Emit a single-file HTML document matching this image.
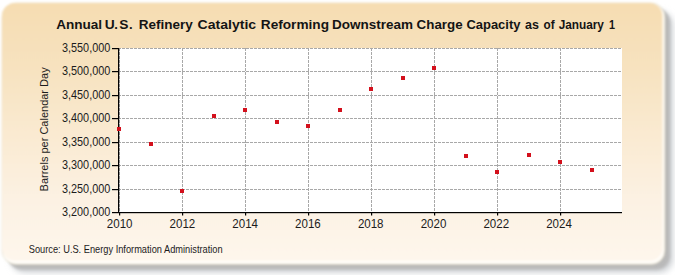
<!DOCTYPE html>
<html><head><meta charset="utf-8"><style>
html,body{margin:0;padding:0;background:#fff;width:675px;height:275px;overflow:hidden}
svg{display:block;font-family:"Liberation Sans", sans-serif}
</style></head><body>
<svg width="675" height="275" viewBox="0 0 675 275">
<defs>
<linearGradient id="bg" x1="0" y1="0" x2="0" y2="1">
<stop offset="0" stop-color="#f6ddb2"/>
<stop offset="0.25" stop-color="#f7e2bf"/>
<stop offset="0.75" stop-color="#fcf1e2"/>
<stop offset="1" stop-color="#fef6ec"/>
</linearGradient>
<filter id="sh" x="-5%" y="-5%" width="115%" height="120%">
<feGaussianBlur stdDeviation="3"/>
</filter>
<filter id="sh2" x="-5%" y="-5%" width="115%" height="120%">
<feGaussianBlur stdDeviation="1.5"/>
</filter>
<filter id="soft" x="-2%" y="-2%" width="104%" height="104%">
<feGaussianBlur stdDeviation="0.8"/>
</filter>
</defs>
<g filter="url(#sh)"><rect x="11" y="11.5" width="662" height="261" rx="14" fill="#cdd0d4"/></g>
<g filter="url(#sh2)"><rect x="8" y="8.5" width="662" height="261" rx="14" fill="#b9b9b9"/></g>
<g filter="url(#soft)">
<rect x="2" y="3" width="663" height="261.5" rx="14" fill="#fffdf8" stroke="#c8bc94" stroke-opacity="0.4" stroke-width="1"/>
<rect x="2" y="3" width="660.5" height="257.5" rx="13" fill="url(#bg)"/>
</g>
<text transform="translate(56.14,28.6) scale(1.0442,1)" font-size="13" font-weight="bold" fill="#141414">Annual</text>
<text transform="translate(138.72,28.6) scale(1.0400,1)" font-size="13" font-weight="bold" fill="#141414">Refinery</text>
<text transform="translate(197.46,28.6) scale(1.0836,1)" font-size="13" font-weight="bold" fill="#141414">Catalytic</text>
<text transform="translate(260.81,28.6) scale(1.0498,1)" font-size="13" font-weight="bold" fill="#141414">Reforming</text>
<text transform="translate(332.02,28.6) scale(1.0392,1)" font-size="13" font-weight="bold" fill="#141414">Downstream</text>
<text transform="translate(416.59,28.6) scale(1.0286,1)" font-size="13" font-weight="bold" fill="#141414">Charge</text>
<text transform="translate(466.40,28.6) scale(0.9981,1)" font-size="13" font-weight="bold" fill="#141414">Capacity</text>
<text transform="translate(525.12,28.6) scale(0.9630,1)" font-size="13" font-weight="bold" fill="#141414">as</text>
<text transform="translate(543.55,28.6) scale(0.9021,1)" font-size="13" font-weight="bold" fill="#141414">of</text>
<text transform="translate(558.67,28.6) scale(0.9091,1)" font-size="13" font-weight="bold" fill="#141414">January</text>
<text transform="translate(608.98,28.6) scale(0.8333,1)" font-size="13" font-weight="bold" fill="#141414">1</text>
<text transform="translate(104.80,28.6) scale(1.0600,1)" font-size="13" font-weight="bold" fill="#141414">U</text>
<text transform="translate(114.22,28.6) scale(1.0000,1)" font-size="13" font-weight="bold" fill="#141414">.</text>
<text transform="translate(119.26,28.6) scale(1.0600,1)" font-size="13" font-weight="bold" fill="#141414">S</text>
<text transform="translate(128.93,28.6) scale(1.0000,1)" font-size="13" font-weight="bold" fill="#141414">.</text>
<text transform="translate(47.8,191.46) rotate(-90) scale(0.9569,1)" font-size="11.5" fill="#1c1c1c">Barrels per Calendar Day</text>
<text transform="translate(28.74,252.9) scale(0.9266,1)" font-size="10" fill="#1c1c1c">Source: U.S. Energy Information Administration</text>
<rect x="118" y="48" width="504" height="165" fill="#fff"/>
<line x1="118" y1="48.5" x2="622" y2="48.5" stroke="#a8a8a8" stroke-width="1" stroke-dasharray="3,1"/>
<line x1="118" y1="71.5" x2="622" y2="71.5" stroke="#a8a8a8" stroke-width="1" stroke-dasharray="3,1"/>
<line x1="118" y1="95.5" x2="622" y2="95.5" stroke="#a8a8a8" stroke-width="1" stroke-dasharray="3,1"/>
<line x1="118" y1="118.5" x2="622" y2="118.5" stroke="#a8a8a8" stroke-width="1" stroke-dasharray="3,1"/>
<line x1="118" y1="142.5" x2="622" y2="142.5" stroke="#a8a8a8" stroke-width="1" stroke-dasharray="3,1"/>
<line x1="118" y1="165.5" x2="622" y2="165.5" stroke="#a8a8a8" stroke-width="1" stroke-dasharray="3,1"/>
<line x1="118" y1="189.5" x2="622" y2="189.5" stroke="#a8a8a8" stroke-width="1" stroke-dasharray="3,1"/>
<line x1="119.5" y1="48" x2="119.5" y2="212" stroke="#a8a8a8" stroke-width="1" stroke-dasharray="3,1"/>
<line x1="182.5" y1="48" x2="182.5" y2="212" stroke="#a8a8a8" stroke-width="1" stroke-dasharray="3,1"/>
<line x1="245.5" y1="48" x2="245.5" y2="212" stroke="#a8a8a8" stroke-width="1" stroke-dasharray="3,1"/>
<line x1="308.5" y1="48" x2="308.5" y2="212" stroke="#a8a8a8" stroke-width="1" stroke-dasharray="3,1"/>
<line x1="371.5" y1="48" x2="371.5" y2="212" stroke="#a8a8a8" stroke-width="1" stroke-dasharray="3,1"/>
<line x1="434.5" y1="48" x2="434.5" y2="212" stroke="#a8a8a8" stroke-width="1" stroke-dasharray="3,1"/>
<line x1="497.5" y1="48" x2="497.5" y2="212" stroke="#a8a8a8" stroke-width="1" stroke-dasharray="3,1"/>
<line x1="560.5" y1="48" x2="560.5" y2="212" stroke="#a8a8a8" stroke-width="1" stroke-dasharray="3,1"/>
<rect x="118" y="48" width="1.2" height="165" fill="#000"/>
<rect x="118" y="212" width="504" height="1.2" fill="#000"/>
<rect x="112" y="48" width="6" height="1.2" fill="#000"/>
<text transform="translate(61.95,51.6) scale(0.9067,1)" font-size="12" fill="#1c1c1c">3,550,000</text>
<rect x="112" y="71" width="6" height="1.2" fill="#000"/>
<text transform="translate(61.95,74.6) scale(0.9067,1)" font-size="12" fill="#1c1c1c">3,500,000</text>
<rect x="112" y="95" width="6" height="1.2" fill="#000"/>
<text transform="translate(61.95,98.6) scale(0.9067,1)" font-size="12" fill="#1c1c1c">3,450,000</text>
<rect x="112" y="118" width="6" height="1.2" fill="#000"/>
<text transform="translate(61.95,121.6) scale(0.9067,1)" font-size="12" fill="#1c1c1c">3,400,000</text>
<rect x="112" y="142" width="6" height="1.2" fill="#000"/>
<text transform="translate(61.95,145.6) scale(0.9067,1)" font-size="12" fill="#1c1c1c">3,350,000</text>
<rect x="112" y="165" width="6" height="1.2" fill="#000"/>
<text transform="translate(61.95,168.6) scale(0.9067,1)" font-size="12" fill="#1c1c1c">3,300,000</text>
<rect x="112" y="189" width="6" height="1.2" fill="#000"/>
<text transform="translate(61.95,192.6) scale(0.9067,1)" font-size="12" fill="#1c1c1c">3,250,000</text>
<rect x="112" y="212" width="6" height="1.2" fill="#000"/>
<text transform="translate(61.95,215.6) scale(0.9067,1)" font-size="12" fill="#1c1c1c">3,200,000</text>
<rect x="119" y="212" width="1.2" height="3.5" fill="#000"/>
<text transform="translate(106.84,227.9) scale(0.9243,1)" font-size="12.5" fill="#1c1c1c">2010</text>
<rect x="182" y="212" width="1.2" height="3.5" fill="#000"/>
<text transform="translate(169.60,227.9) scale(0.9243,1)" font-size="12.5" fill="#1c1c1c">2012</text>
<rect x="245" y="212" width="1.2" height="3.5" fill="#000"/>
<text transform="translate(232.36,227.9) scale(0.9243,1)" font-size="12.5" fill="#1c1c1c">2014</text>
<rect x="308" y="212" width="1.2" height="3.5" fill="#000"/>
<text transform="translate(295.12,227.9) scale(0.9243,1)" font-size="12.5" fill="#1c1c1c">2016</text>
<rect x="371" y="212" width="1.2" height="3.5" fill="#000"/>
<text transform="translate(357.88,227.9) scale(0.9243,1)" font-size="12.5" fill="#1c1c1c">2018</text>
<rect x="434" y="212" width="1.2" height="3.5" fill="#000"/>
<text transform="translate(420.64,227.9) scale(0.9243,1)" font-size="12.5" fill="#1c1c1c">2020</text>
<rect x="497" y="212" width="1.2" height="3.5" fill="#000"/>
<text transform="translate(483.40,227.9) scale(0.9243,1)" font-size="12.5" fill="#1c1c1c">2022</text>
<rect x="560" y="212" width="1.2" height="3.5" fill="#000"/>
<text transform="translate(546.16,227.9) scale(0.9243,1)" font-size="12.5" fill="#1c1c1c">2024</text>
<rect x="117" y="127" width="4" height="4" fill="#d3101c"/>
<rect x="149" y="142" width="4" height="4" fill="#d3101c"/>
<rect x="180" y="189" width="4" height="4" fill="#d3101c"/>
<rect x="212" y="114" width="4" height="4" fill="#d3101c"/>
<rect x="243" y="108" width="4" height="4" fill="#d3101c"/>
<rect x="275" y="120" width="4" height="4" fill="#d3101c"/>
<rect x="306" y="124" width="4" height="4" fill="#d3101c"/>
<rect x="338" y="108" width="4" height="4" fill="#d3101c"/>
<rect x="369" y="87" width="4" height="4" fill="#d3101c"/>
<rect x="401" y="76" width="4" height="4" fill="#d3101c"/>
<rect x="432" y="66" width="4" height="4" fill="#d3101c"/>
<rect x="464" y="154" width="4" height="4" fill="#d3101c"/>
<rect x="495" y="170" width="4" height="4" fill="#d3101c"/>
<rect x="527" y="153" width="4" height="4" fill="#d3101c"/>
<rect x="558" y="160" width="4" height="4" fill="#d3101c"/>
<rect x="590" y="168" width="4" height="4" fill="#d3101c"/>
</svg>
</body></html>
